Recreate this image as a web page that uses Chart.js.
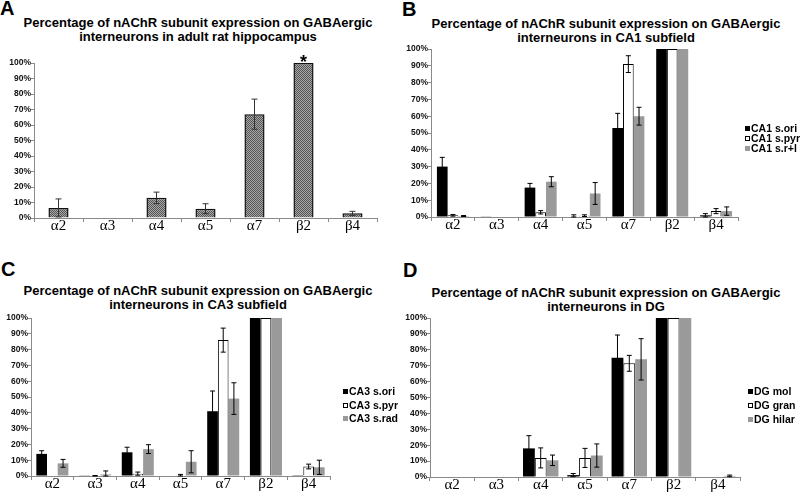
<!DOCTYPE html>
<html>
<head>
<meta charset="utf-8">
<script src="https://cdn.jsdelivr.net/npm/chart.js@4.4.1/dist/chart.umd.min.js"></script>
<style>
  body { margin: 0; background: #fff; width: 800px; height: 493px; position: relative; overflow: hidden;
         font-family: 'Liberation Sans', Arial, sans-serif; color: #000; }
  canvas { position: absolute; }
  .letter { position: absolute; font-weight: bold; font-size: 20px; line-height: 20px; }
  .title { position: absolute; width: 400px; text-align: center; font-weight: bold; font-size: 13px; line-height: 14px; white-space: nowrap; }
  .legend { position: absolute; font-weight: bold; font-size: 10.5px; }
  .legend div { white-space: nowrap; }
  .legend span { display: inline-block; width: 5px; height: 5px; margin-right: 1px; vertical-align: 1px; box-sizing: border-box; }
</style>
</head>
<body>
<div class="letter" style="left:0;top:-2px">A</div>
<div class="letter" style="left:402px;top:-1px">B</div>
<div class="letter" style="left:1px;top:259px">C</div>
<div class="letter" style="left:403px;top:260px">D</div>

<div class="title" style="left:-2px;top:16px">Percentage of nAChR subunit expression on GABAergic<br>interneurons in adult rat hippocampus</div>
<div class="title" style="left:406px;top:17px">Percentage of nAChR subunit expression on GABAergic<br>interneurons in CA1 subfield</div>
<div class="title" style="left:-2px;top:284px">Percentage of nAChR subunit expression on GABAergic<br>interneurons in CA3 subfield</div>
<div class="title" style="left:406px;top:286px">Percentage of nAChR subunit expression on GABAergic<br>interneurons in DG</div>

<canvas id="chartA" width="400" height="246" style="left:0;top:0"></canvas>
<canvas id="chartB" width="400" height="246" style="left:400px;top:0"></canvas>
<canvas id="chartC" width="400" height="247" style="left:0;top:246px"></canvas>
<canvas id="chartD" width="400" height="247" style="left:400px;top:246px"></canvas>

<div class="legend" id="legendB" style="left:745px;top:123px;line-height:10px"></div>
<div class="legend" id="legendC" style="left:343px;top:385px;line-height:13.5px"></div>
<div class="legend" id="legendD" style="left:748px;top:385px;line-height:13.75px"></div>

<script>
// subunits on the x axis
const categories = ['α2', 'α3', 'α4', 'α5', 'α7', 'β2', 'β4'];

// A - whole hippocampus
const allValues = [6.5, 0.3, 13, 6, 67, 100, 3];
const allErrors = [5.8, 0, 3.7, 3.2, 9.7, 0, 1.3];
const allStars  = ['', '', '', '', '', '*', ''];

// B - CA1
const ca1Names  = ['CA1 s.ori', 'CA1 s.pyr', 'CA1 s.r+l'];
const ca1Ori    = [30, 0.2, 17.5, 0.3, 53, 100, 1];
const ca1OriErr = [5.5, 0, 2.5, 1, 8.7, 0, 1];
const ca1Pyr    = [1, 0, 2.8, 0.8, 91, 100, 3.5];
const ca1PyrErr = [0.5, 0, 1, 0.5, 5, 0, 1.5];
const ca1Rl     = [0.6, 0, 21, 14, 60, 100, 3.5];
const ca1RlErr  = [0.3, 0, 3, 6.5, 5.3, 0, 2.5];

// C - CA3
const ca3Names  = ['CA3 s.ori', 'CA3 s.pyr', 'CA3 s.rad'];
const ca3Ori    = [14, 0.2, 15, 0, 41, 100, 0.5];
const ca3OriErr = [2, 0, 3.2, 0, 12.8, 0, 0];
const ca3Pyr    = [0.5, 0, 1.5, 0.5, 86, 100, 6];
const ca3PyrErr = [0, 0.3, 1, 0.5, 7.6, 0, 1.5];
const ca3Rad    = [8, 1, 17, 9, 49, 100, 5.5];
const ca3RadErr = [2.5, 2.2, 2.8, 7, 10, 0, 4.5];

// D - dentate gyrus
const dgNames   = ['DG mol', 'DG gran', 'DG hilar'];
const dgMol     = [0, 0.3, 18, 1.2, 75, 100, 0];
const dgMolErr  = [0, 0, 8, 1, 14.3, 0, 0];
const dgGran    = [0, 0, 12, 12, 71.5, 100, 0];
const dgGranErr = [0, 0, 6.3, 6, 5, 0, 0];
const dgHilar   = [0, 0, 10.5, 13.5, 74, 100, 0.7];
const dgHilarErr = [0, 0, 3.3, 7.3, 13, 0, 0.5];

// fill styles of the three layers
const layerColors  = ['#000000', '#ffffff', '#9a9a9a'];
const layerBorders = ['#000000', '#000000', '#9a9a9a'];

// checker pattern for the single-series bars
function hatchPattern() {
  const c = document.createElement('canvas');
  c.width = 2; c.height = 2;
  const g = c.getContext('2d');
  g.fillStyle = '#a8a8a8'; g.fillRect(0, 0, 2, 2);
  g.fillStyle = '#555555'; g.fillRect(0, 0, 1, 1); g.fillRect(1, 1, 1, 1);
  return g.createPattern(c, 'repeat');
}

// error bars + star marks
const errorBars = {
  id: 'errorBars',
  afterDatasetsDraw(chart, args, opts) {
    const ctx = chart.ctx;
    const y = chart.scales.y;
    chart.data.datasets.forEach((ds, di) => {
      const meta = chart.getDatasetMeta(di);
      meta.data.forEach((bar, i) => {
        const e = ds.errors ? ds.errors[i] : 0;
        const v = ds.data[i];
        if (e) {
          const top = y.getPixelForValue(v + e);
          const bot = y.getPixelForValue(Math.max(0, v - e));
          const w = opts.cap;
          ctx.save();
          ctx.strokeStyle = opts.color;
          ctx.lineWidth = 1;
          ctx.beginPath();
          ctx.moveTo(bar.x, top); ctx.lineTo(bar.x, bot);
          ctx.moveTo(bar.x - w, top); ctx.lineTo(bar.x + w, top);
          ctx.moveTo(bar.x - w, bot); ctx.lineTo(bar.x + w, bot);
          ctx.stroke();
          ctx.restore();
        }
        if (ds.stars && ds.stars[i]) {
          ctx.save();
          ctx.fillStyle = '#000';
          ctx.font = 'bold 18px "Liberation Sans", Arial';
          ctx.textAlign = 'center';
          ctx.textBaseline = 'alphabetic';
          ctx.fillText(ds.stars[i], bar.x, bar.y + 5);
          ctx.restore();
        }
      });
    });
  }
};

function makeChart(id, datasets, lay) {
  return new Chart(document.getElementById(id), {
    type: 'bar',
    data: { labels: categories, datasets: datasets },
    plugins: [errorBars],
    options: {
      responsive: false,
      animation: false,
      devicePixelRatio: 1,
      layout: { padding: { left: 0, top: lay.top, right: lay.right, bottom: lay.bottom } },
      datasets: { bar: { categoryPercentage: lay.cat, barPercentage: 1 } },
      plugins: {
        legend: { display: false },
        tooltip: { enabled: false },
        errorBars: { cap: lay.cap, color: lay.errColor }
      },
      scales: {
        x: {
          afterFit: s => { s.height = lay.xH; },
          border: { display: true, color: '#8a8a8a', width: 1 },
          grid: { offset: true, drawOnChartArea: false, drawTicks: true, tickLength: 4, color: '#8a8a8a' },
          ticks: { color: '#000', padding: -3,
                   font: { family: '"Liberation Serif", "Times New Roman", serif', size: 15, lineHeight: 1 } }
        },
        y: {
          min: 0, max: 100,
          afterFit: s => { s.width = lay.yW; },
          border: { display: true, color: '#8a8a8a', width: 1 },
          grid: { drawOnChartArea: false, drawTicks: true, tickLength: 3, color: '#8a8a8a' },
          ticks: {
            stepSize: 10, padding: 0, color: '#111',
            font: { family: '"Liberation Sans", Arial', size: 8.5, weight: 'bold' },
            callback: v => v + '%'
          }
        }
      }
    }
  });
}

function layerSets(names, values, errors) {
  return names.map((n, k) => ({
    label: n,
    data: values[k],
    errors: errors[k],
    backgroundColor: layerColors[k],
    borderColor: layerBorders[k],
    borderWidth: k === 1 ? 1 : 0
  }));
}

function buildLegend(id, names) {
  document.getElementById(id).innerHTML = names.map((n, k) =>
    `<div><span style="background:${layerColors[k]};border:1px solid ${layerBorders[k]}"></span>${n}</div>`
  ).join('');
}

makeChart('chartA', [{
  label: 'all',
  data: allValues,
  errors: allErrors,
  stars: allStars,
  backgroundColor: hatchPattern(),
  borderColor: '#111',
  borderWidth: 1.5
}], { top: 63, right: 23, bottom: 8, xH: 20, yW: 34, cat: 0.41, cap: 3, errColor: '#333' });

makeChart('chartB', layerSets(ca1Names, [ca1Ori, ca1Pyr, ca1Rl], [ca1OriErr, ca1PyrErr, ca1RlErr]),
  { top: 49, right: 62, bottom: 9, xH: 20, yW: 31, cat: 0.73, cap: 2.5, errColor: '#000' });

makeChart('chartC', layerSets(ca3Names, [ca3Ori, ca3Pyr, ca3Rad], [ca3OriErr, ca3PyrErr, ca3RadErr]),
  { top: 72, right: 70, bottom: 0, xH: 17, yW: 31, cat: 0.75, cap: 2.5, errColor: '#000' });

makeChart('chartD', layerSets(dgNames, [dgMol, dgGran, dgHilar], [dgMolErr, dgGranErr, dgHilarErr]),
  { top: 72, right: 60, bottom: 0, xH: 16, yW: 30, cat: 0.8, cap: 2.5, errColor: '#000' });

buildLegend('legendB', ca1Names);
buildLegend('legendC', ca3Names);
buildLegend('legendD', dgNames);
</script>
</body>
</html>
